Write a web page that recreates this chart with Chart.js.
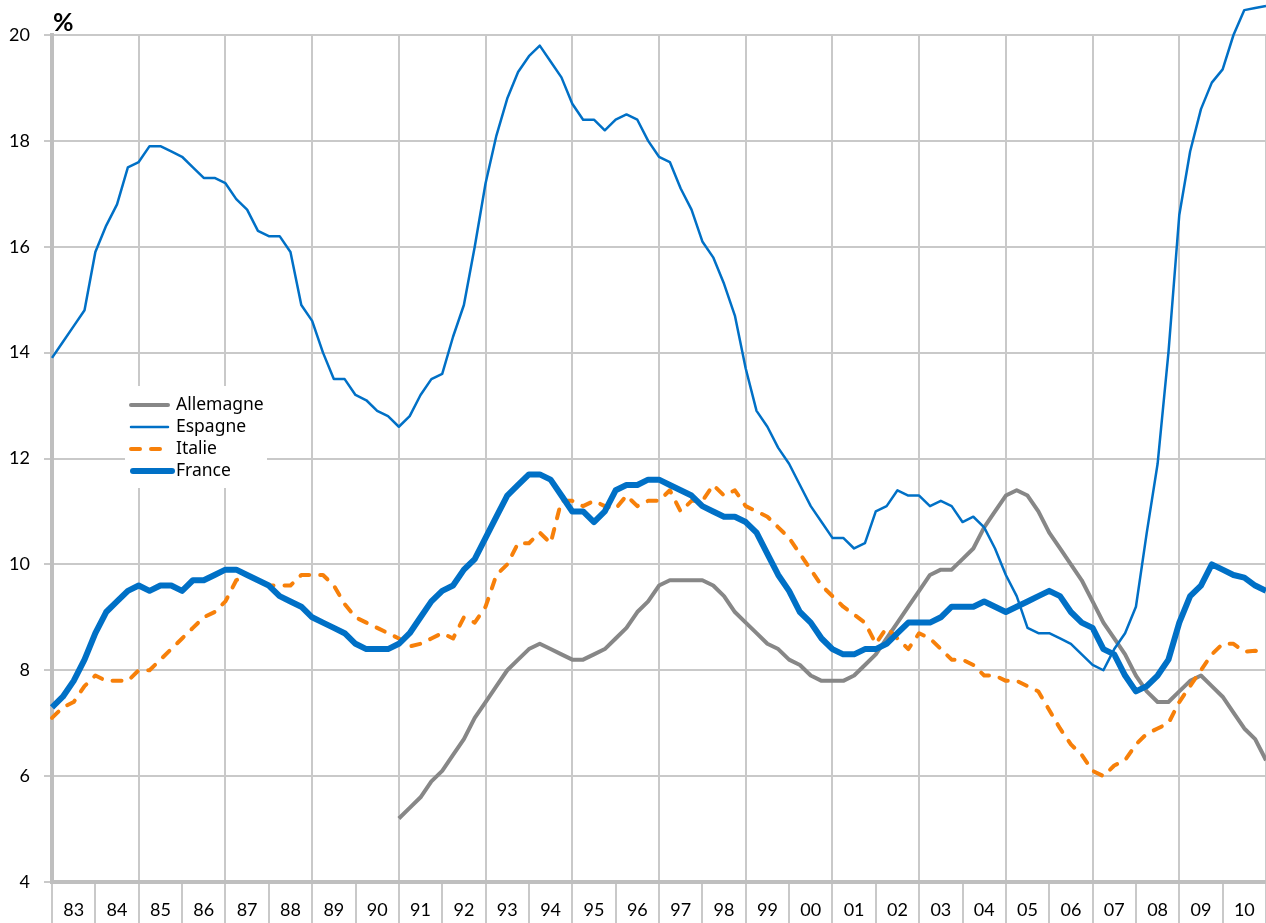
<!DOCTYPE html>
<html><head><meta charset="utf-8">
<script src="https://cdn.jsdelivr.net/npm/chart.js@4.4.1/dist/chart.umd.min.js"></script>
<style>html,body{margin:0;padding:0;background:#fff;}canvas{display:block;}</style>
</head><body>
<canvas id="c" width="1266" height="923"></canvas>
<script>
// Tick labels (years, one band of 4 quarters each)
const years = ['83','84','85','86','87','88','89','90','91','92','93','94','95','96','97','98','99','00','01','02','03','04','05','06','07','08','09','10'];

// Quarterly unemployment rates (%), index 0 = 1983 Q1
const allemagne = [null,null,null,null,null,null,null,null,null,null,null,null,null,null,null,null,
  null,null,null,null,null,null,null,null,null,null,null,null,null,null,null,null,
  5.2,5.4,5.6,5.9,6.1,6.4,6.7,7.1,7.4,7.7,8.0,8.2,8.4,8.5,8.4,8.3,
  8.2,8.2,8.3,8.4,8.6,8.8,9.1,9.3,9.6,9.7,9.7,9.7,9.7,9.6,9.4,9.1,
  8.9,8.7,8.5,8.4,8.2,8.1,7.9,7.8,7.8,7.8,7.9,8.1,8.3,8.6,8.9,9.2,
  9.5,9.8,9.9,9.9,10.1,10.3,10.7,11.0,11.3,11.4,11.3,11.0,10.6,10.3,10.0,9.7,
  9.3,8.9,8.6,8.3,7.9,7.6,7.4,7.4,7.6,7.8,7.9,7.7,7.5,7.2,6.9,6.7,6.3];

const espagne = [13.9,14.2,14.5,14.8,15.9,16.4,16.8,17.5,17.6,17.9,17.9,17.8,17.7,17.5,17.3,17.3,
  17.2,16.9,16.7,16.3,16.2,16.2,15.9,14.9,14.6,14.0,13.5,13.5,13.2,13.1,12.9,12.8,
  12.6,12.8,13.2,13.5,13.6,14.3,14.9,16.0,17.2,18.1,18.8,19.3,19.6,19.8,19.5,19.2,
  18.7,18.4,18.4,18.2,18.4,18.5,18.4,18.0,17.7,17.6,17.1,16.7,16.1,15.8,15.3,14.7,
  13.7,12.9,12.6,12.2,11.9,11.5,11.1,10.8,10.5,10.5,10.3,10.4,11.0,11.1,11.4,11.3,
  11.3,11.1,11.2,11.1,10.8,10.9,10.7,10.3,9.8,9.4,8.8,8.7,8.7,8.6,8.5,8.3,
  8.1,8.0,8.4,8.7,9.2,10.6,11.9,14.0,16.6,17.8,18.6,19.1,19.35,20.0,20.47,20.51,20.55];

const italie = [7.1,7.3,7.4,7.7,7.9,7.8,7.8,7.8,8.0,8.0,8.2,8.4,8.6,8.8,9.0,9.1,
  9.3,9.7,9.8,9.7,9.6,9.6,9.6,9.8,9.8,9.8,9.6,9.25,9.0,8.9,8.8,8.7,
  8.6,8.45,8.5,8.6,8.7,8.6,9.0,8.9,9.2,9.8,10.0,10.4,10.4,10.6,10.4,11.2,
  11.2,11.1,11.2,11.1,11.05,11.3,11.1,11.2,11.2,11.4,11.0,11.2,11.2,11.5,11.3,11.4,
  11.1,11.0,10.9,10.7,10.5,10.2,9.9,9.6,9.4,9.2,9.05,8.9,8.5,8.8,8.6,8.4,
  8.7,8.6,8.4,8.2,8.2,8.1,7.9,7.9,7.8,7.8,7.7,7.6,7.25,6.9,6.6,6.4,
  6.1,6.0,6.2,6.3,6.6,6.8,6.9,7.0,7.4,7.7,8.0,8.3,8.5,8.5,8.35,8.37,8.3];

const france = [7.3,7.5,7.8,8.2,8.7,9.1,9.3,9.5,9.6,9.5,9.6,9.6,9.5,9.7,9.7,9.8,
  9.9,9.9,9.8,9.7,9.6,9.4,9.3,9.2,9.0,8.9,8.8,8.7,8.5,8.4,8.4,8.4,
  8.5,8.7,9.0,9.3,9.5,9.6,9.9,10.1,10.5,10.9,11.3,11.5,11.7,11.7,11.6,11.3,
  11.0,11.0,10.8,11.0,11.4,11.5,11.5,11.6,11.6,11.5,11.4,11.3,11.1,11.0,10.9,10.9,
  10.8,10.6,10.2,9.8,9.5,9.1,8.9,8.6,8.4,8.3,8.3,8.4,8.4,8.5,8.7,8.9,
  8.9,8.9,9.0,9.2,9.2,9.2,9.3,9.2,9.1,9.2,9.3,9.4,9.5,9.4,9.1,8.9,
  8.8,8.4,8.3,7.9,7.6,7.7,7.9,8.2,8.9,9.4,9.6,10.0,9.9,9.8,9.75,9.6,9.5];

const seriesNames = ['Allemagne','Espagne','Italie','France'];
const yTicks = {min: 4, max: 20, step: 2};

const FONT = 'Lato, "Noto Sans", sans-serif';
const LEGEND_FONT = '"Noto Sans", Lato, sans-serif';
const GRID = '#c9c9c9';
const AXIS = '#bfbfbf';
const BLUE = '#0070c6';
const TRANSP = 'rgba(0,0,0,0)';
const toXY = arr => arr.map((v, i) => ({x: i, y: v}));

const extras = {
  id: 'extras',
  afterDraw(chart) {
    const ctx = chart.ctx;
    ctx.save();
    ctx.fillStyle = '#000';
    ctx.font = 'bold 25px ' + FONT;
    ctx.textBaseline = 'alphabetic';
    ctx.textAlign = 'left';
    ctx.fillText('%', 53, 31);
    // legend box
    ctx.fillStyle = '#fff';
    ctx.fillRect(125, 386, 142, 102);
    const rows = [405, 427, 449, 471];
    [0, 1, 2, 3].forEach((k) => {
      const ds = chart.data.datasets[k];
      ctx.beginPath();
      ctx.strokeStyle = ds.borderColor;
      ctx.lineWidth = ds.borderWidth;
      ctx.lineCap = 'round';
      ctx.setLineDash(ds.borderDash || []);
      const x0 = k === 3 ? 133 : 131;
      const x1 = k === 3 ? 172 : 168;
      ctx.moveTo(x0, rows[k]);
      ctx.lineTo(x1, rows[k]);
      ctx.stroke();
      ctx.setLineDash([]);
      ctx.fillStyle = '#000';
      ctx.font = '17.5px ' + LEGEND_FONT;
      ctx.textBaseline = 'middle';
      ctx.fillText(ds.label, 176, rows[k]);
    });
    ctx.restore();
  }
};

new Chart(document.getElementById('c'), {
  type: 'line',
  data: {
    datasets: [
      {label: seriesNames[0], data: toXY(allemagne), borderColor: '#878787', borderWidth: 4, order: 4},
      {label: seriesNames[1], data: toXY(espagne), borderColor: BLUE, borderWidth: 2.5, order: 3},
      {label: seriesNames[2], data: toXY(italie), borderColor: '#f7800a', borderWidth: 4, borderDash: [9, 11], borderCapStyle: 'round', order: 2},
      {label: seriesNames[3], data: toXY(france), borderColor: BLUE, borderWidth: 6, order: 1}
    ]
  },
  options: {
    responsive: false,
    devicePixelRatio: 1,
    animation: false,
    layout: {padding: {top: 35, left: 0, right: 0, bottom: 0}},
    elements: {
      point: {radius: 0, hoverRadius: 0},
      line: {tension: 0, borderJoinStyle: 'round', fill: false}
    },
    datasets: {line: {clip: false, spanGaps: false}},
    plugins: {legend: {display: false}, tooltip: {enabled: false}, title: {display: false}},
    scales: {
      x: {
        type: 'linear',
        min: 0,
        max: years.length * 4,
        afterFit: (s) => { s.height = 41; },
        ticks: {
          stepSize: 2,
          autoSkip: false,
          maxRotation: 0,
          padding: -24,
          color: '#000',
          font: {family: FONT, size: 18},
          callback: (v) => (v % 4 === 2) ? years[(v - 2) / 4] : ''
        },
        grid: {
          color: (c) => (c.tick && c.tick.value % 8 === 0) ? GRID : TRANSP,
          lineWidth: 2,
          tickLength: 41,
          tickWidth: 2,
          tickColor: (c) => (c.tick && c.tick.value % 4 === 0) ? GRID : TRANSP
        },
        border: {display: true, color: AXIS, width: 4}
      },
      y: {
        min: yTicks.min,
        max: yTicks.max,
        afterFit: (s) => { s.width = 52; },
        ticks: {
          stepSize: yTicks.step,
          padding: 14,
          color: '#000',
          font: {family: FONT, size: 18}
        },
        grid: {color: GRID, lineWidth: 2, tickLength: 8, tickColor: GRID},
        border: {display: true, color: AXIS, width: 4}
      }
    }
  },
  plugins: [extras]
});
</script>
</body></html>
